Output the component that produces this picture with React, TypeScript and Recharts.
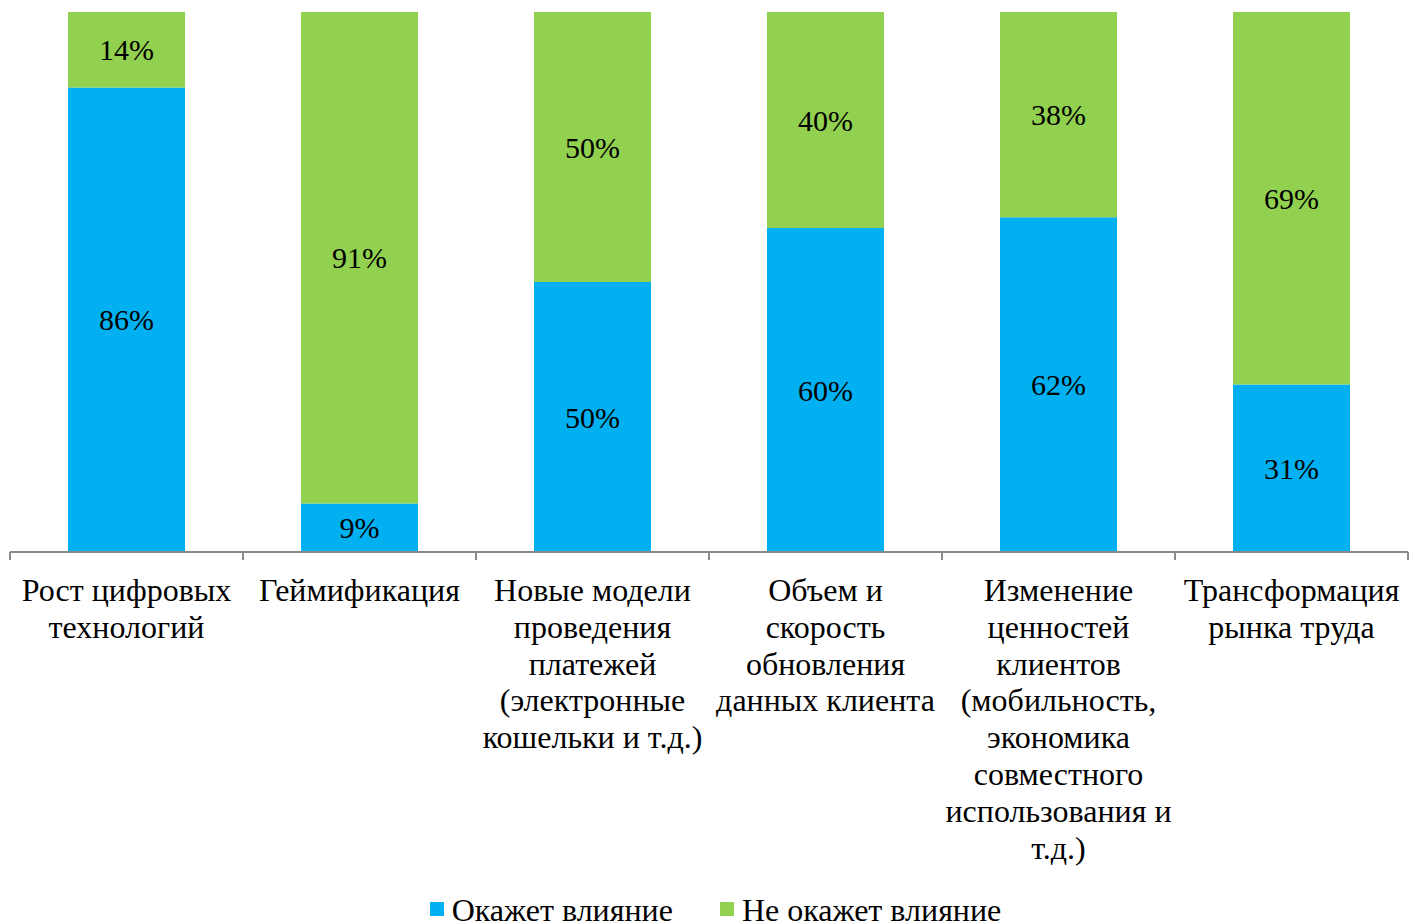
import { BarChart, Bar, XAxis, YAxis, LabelList } from "recharts";

const categories = [
  "Рост цифровых\nтехнологий",
  "Геймификация",
  "Новые модели\nпроведения\nплатежей\n(электронные\nкошельки и т.д.)",
  "Объем и\nскорость\nобновления\nданных клиента",
  "Изменение\nценностей\nклиентов\n(мобильность,\nэкономика\nсовместного\nиспользования и\nт.д.)",
  "Трансформация\nрынка труда",
];
const impact = [86, 9, 50, 60, 62, 31];
const noImpact = [14, 91, 50, 40, 38, 69];

const seriesNames = ["Окажет влияние", "Не окажет влияние"];
const seriesColors = ["#00B0F0", "#92D050"];

const data = categories.map((name, i) => ({ name, impact: impact[i], noImpact: noImpact[i] }));

const W = 1418;
const H = 924;
const margin = { top: 12, right: 10, left: 10, bottom: 0 };
const band = (W - margin.left - margin.right) / categories.length;
const font = "'Liberation Serif', 'Times New Roman', serif";
const axisGray = "#898989";

const CategoryTick = (props: any) => {
  const { x, y, payload, index } = props;
  const lines = String(payload.value).split("\n");
  return (
    <g>
      <line x1={x - band / 2} y1={y} x2={x - band / 2} y2={y + 8} stroke={axisGray} strokeWidth={2} />
      {index === categories.length - 1 && (
        <line x1={x + band / 2} y1={y} x2={x + band / 2} y2={y + 8} stroke={axisGray} strokeWidth={2} />
      )}
      <text x={x} y={y + 49} textAnchor="middle" fontFamily={font} fontSize={32} fill="#000">
        {lines.map((l, i) => (
          <tspan key={i} x={x} dy={i === 0 ? 0 : 36.8}>
            {l}
          </tspan>
        ))}
      </text>
    </g>
  );
};

const pct = (v: any) => `${v}%`;

export default function App() {
  return (
    <div style={{ position: "fixed", left: 0, top: 0, width: W, height: H, background: "#fff", overflow: "hidden" }}>
      <BarChart width={W} height={H} data={data} margin={margin} barSize={117}>
        <XAxis
          dataKey="name"
          height={372}
          stroke={axisGray}
          strokeWidth={2}
          tickLine={false}
          tickSize={0}
          tickMargin={0}
          interval={0}
          tick={<CategoryTick />}
        />
        <YAxis hide domain={[0, 100]} />
        <Bar dataKey="impact" name={seriesNames[0]} stackId="a" fill={seriesColors[0]} isAnimationActive={false}>
          <LabelList dataKey="impact" position="center" formatter={pct} fill="#000" fontFamily={font} fontSize={30} />
        </Bar>
        <Bar dataKey="noImpact" name={seriesNames[1]} stackId="a" fill={seriesColors[1]} isAnimationActive={false}>
          <LabelList dataKey="noImpact" position="center" formatter={pct} fill="#000" fontFamily={font} fontSize={30} />
        </Bar>
      </BarChart>
      <div
        style={{
          position: "absolute",
          top: 894,
          left: 0,
          width: W,
          display: "flex",
          justifyContent: "center",
          gap: 47,
          paddingLeft: 13,
          boxSizing: "border-box",
          fontFamily: font,
          fontSize: 32,
          lineHeight: "32px",
          color: "#000",
        }}
      >
        {seriesNames.map((n, i) => (
          <div key={n} style={{ display: "flex", alignItems: "flex-start", gap: 8 }}>
            <span style={{ width: 14, height: 14, background: seriesColors[i], display: "inline-block", marginTop: 8 }} />
            <span style={{ whiteSpace: "nowrap" }}>{n}</span>
          </div>
        ))}
      </div>
    </div>
  );
}
